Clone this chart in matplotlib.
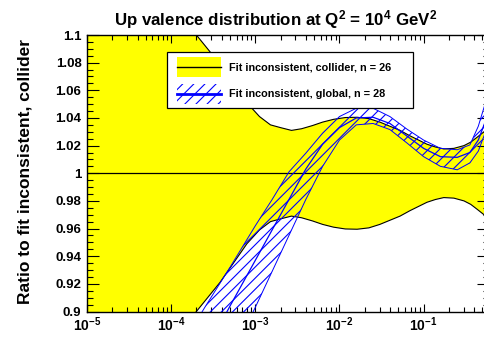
import numpy as np
import matplotlib
matplotlib.use('Agg')
import matplotlib.pyplot as plt
from matplotlib.patches import Rectangle
from matplotlib.lines import Line2D
from matplotlib.ticker import MultipleLocator, LogLocator, FuncFormatter, NullFormatter

plt.rcParams['font.family'] = ['Liberation Sans', 'DejaVu Sans']
plt.rcParams['font.weight'] = 'bold'
plt.rcParams['mathtext.fontset'] = 'custom'
plt.rcParams['mathtext.rm'] = 'Liberation Sans:bold'
plt.rcParams['mathtext.it'] = 'Liberation Sans:bold'
plt.rcParams['mathtext.bf'] = 'Liberation Sans:bold'
plt.rcParams['mathtext.default'] = 'rm'
plt.rcParams['hatch.color'] = 'blue'
plt.rcParams['hatch.linewidth'] = 0.8

YELLOW = '#ffff00'
BLUE = '#0000ff'

# collider fit: symmetric uncertainty about 1 (x given as log10)
coll_logx = [-5.0, -3.70, -3.42, -3.10, -2.95, -2.82, -2.70, -2.57, -2.45, -2.32,
             -2.20, -2.07, -1.93, -1.79, -1.65, -1.52, -1.40, -1.28, -1.16, -1.06,
             -0.96, -0.86, -0.76, -0.64, -0.52, -0.44, -0.365, -0.22]
coll_err = [0.20, 0.100, 0.079, 0.051, 0.041, 0.035, 0.033, 0.031, 0.0322, 0.0345,
            0.037, 0.039, 0.0403, 0.0405, 0.0395, 0.037, 0.034, 0.031, 0.027, 0.024,
            0.021, 0.019, 0.0176, 0.018, 0.020, 0.0225, 0.026, 0.033]

# global fit ratio to collider fit: central value and band edges
glob_logx = [-3.9, -3.6, -3.3, -3.0, -2.8, -2.6, -2.4, -2.2, -2.0, -1.8,
             -1.6, -1.4, -1.2, -1.0, -0.8, -0.6, -0.45, -0.35, -0.22]
glob_mid = [0.837, 0.870, 0.904, 0.937, 0.959, 0.981, 1.003, 1.021, 1.033, 1.040,
            1.0405, 1.036, 1.027, 1.018, 1.012, 1.0115, 1.015, 1.024, 1.045]
glob_hi = [0.873, 0.903, 0.932, 0.962, 0.981, 1.001, 1.0145, 1.029, 1.041, 1.047,
           1.047, 1.041, 1.032, 1.024, 1.018, 1.017, 1.0205, 1.034, 1.060]
glob_lo = [0.790, 0.826, 0.865, 0.903, 0.929, 0.955, 0.981, 1.005, 1.024, 1.035,
           1.036, 1.0316, 1.022, 1.012, 1.005, 1.0025, 1.0075, 1.016, 1.037]

legend_labels = ['Fit inconsistent, collider, n = 26',
                 'Fit inconsistent, global, n = 28']

xc = 10.0 ** np.array(coll_logx)
ec = np.array(coll_err)
xg = 10.0 ** np.array(glob_logx)

fig = plt.figure(figsize=(4.84, 3.5), dpi=100)
ax = fig.add_axes([87 / 484, 38.5 / 350, 401.5 / 484, 276.5 / 350])

# yellow collider band
ax.fill_between(xc, 1 - ec, 1 + ec, facecolor=YELLOW, edgecolor='none', zorder=1)
ax.plot(xc, 1 + ec, color='black', lw=0.8, zorder=2)
ax.plot(xc, 1 - ec, color='black', lw=0.8, zorder=2)
ax.axhline(1.0, color='black', lw=0.9, zorder=2)

# hatched global band
ax.fill_between(xg, glob_lo, glob_hi, facecolor='none', edgecolor=BLUE,
                hatch='///', linewidth=0, zorder=3)
ax.plot(xg, glob_hi, color=BLUE, lw=0.7, zorder=4)
ax.plot(xg, glob_lo, color=BLUE, lw=0.7, zorder=4)
ax.plot(xg, glob_mid, color=BLUE, lw=0.9, zorder=4)

ax.set_xscale('log')
ax.set_xlim(1e-5, 10 ** (-5 + 401.5 / 84.15))
ax.set_ylim(0.9, 1.1)

ax.yaxis.set_major_locator(MultipleLocator(0.02))
ax.yaxis.set_minor_locator(MultipleLocator(0.005))
ax.yaxis.set_major_formatter(FuncFormatter(lambda v, p: f'{v:g}'))
ax.xaxis.set_major_locator(LogLocator(base=10, numticks=10))
ax.xaxis.set_minor_locator(LogLocator(base=10, subs=np.arange(2, 10), numticks=20))
ax.xaxis.set_minor_formatter(NullFormatter())

ax.tick_params(which='both', direction='in', top=True, right=True, width=0.8)
ax.tick_params(axis='y', which='major', length=8.6, labelsize=9.5, pad=4)
ax.tick_params(axis='y', which='minor', length=4.3)
ax.tick_params(axis='x', which='major', length=5.8, labelsize=10, pad=3)
ax.tick_params(axis='x', which='minor', length=3.6)
for s in ax.spines.values():
    s.set_linewidth(1.0)

fig.text(276 / 484, 1 - 25 / 350, r'Up valence distribution at Q$^2$ = 10$^4$ GeV$^2$',
         fontsize=12.2, fontweight='bold', ha='center', va='baseline')
fig.text(25 / 484, 0.509, 'Ratio to fit inconsistent, collider', rotation=90,
         fontsize=12.5, fontweight='bold', ha='center', va='center')


# legend box drawn in figure pixels
def fpx(px, py):
    return px / 484, 1 - py / 350


tf = fig.transFigure
x0, y0 = fpx(167.3, 108.3)
x1, y1 = fpx(413, 52.3)
ax.add_patch(Rectangle((x0, y0), x1 - x0, y1 - y0, transform=tf, facecolor='white',
                       edgecolor='black', lw=0.9, zorder=10, clip_on=False))

sx0, _ = fpx(177.3, 0)
sx1, _ = fpx(221, 0)
sh = 20 / 350
_, r1 = fpx(0, 76.7)
_, r2 = fpx(0, 104.3)
ax.add_patch(Rectangle((sx0, r1), sx1 - sx0, sh, transform=tf, facecolor=YELLOW,
                       edgecolor='none', zorder=11, clip_on=False))
ax.add_line(Line2D([sx0, sx1], [r1 + sh / 2] * 2, transform=tf, color='black',
                   lw=1.0, zorder=12, clip_on=False))
ax.add_patch(Rectangle((sx0, r2), sx1 - sx0, sh, transform=tf, facecolor='white',
                       edgecolor=BLUE, hatch='///', lw=0, zorder=11, clip_on=False))
ax.add_line(Line2D([sx0, sx1], [r2 + sh / 2] * 2, transform=tf, color=BLUE,
                   lw=2.0, zorder=12, clip_on=False))

tx, _ = fpx(229.3, 0)
for lab, yy in zip(legend_labels, [67.7, 94.0]):
    ax.text(tx, 1 - yy / 350, lab, transform=tf, fontsize=7.8, fontweight='bold',
            ha='left', va='center', zorder=13)

fig.savefig('out.png', dpi=100)
